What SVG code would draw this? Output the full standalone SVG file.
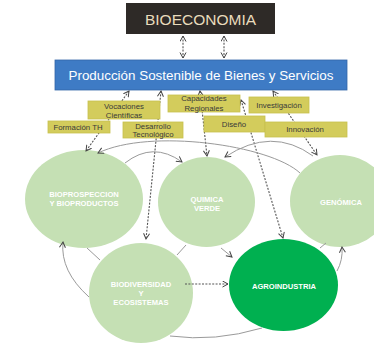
<svg xmlns="http://www.w3.org/2000/svg" width="374" height="346" viewBox="0 0 374 346">
<style>
.ybox{fill:#d3cc5c;stroke:#c7c04e;stroke-width:0.8}
.yt{font-family:"Liberation Sans",Arial,sans-serif;font-size:7.8px;fill:#3a3a3a;text-anchor:middle}
.lc{fill:#c5e0b4}
.ct{font-family:"Liberation Sans",Arial,sans-serif;font-size:7.6px;font-weight:bold;fill:#ffffff;text-anchor:middle}
.dash{fill:none;stroke:#555;stroke-width:1.1;stroke-dasharray:2 1.4}
.arc{fill:none;stroke:#9a9a9a;stroke-width:1}
</style>
<defs>
<marker id="ah" markerUnits="userSpaceOnUse" markerWidth="9" markerHeight="9" refX="6" refY="3.5" orient="auto-start-reverse">
<path d="M0.5,0.5 L6,3.5 L0.5,6.5" fill="none" stroke="#444" stroke-width="1"/>
</marker>
</defs>
<rect width="374" height="346" fill="#ffffff"/>

<g id="bioeconomia">
<rect x="126" y="3" width="149" height="31" fill="#2e2a27"/>
<text x="200.5" y="25" font-family="'Liberation Sans',Arial,sans-serif" font-size="15.5" fill="#e9dcbc" text-anchor="middle">BIOECONOMIA</text>
</g>
<g id="produccion">
<rect x="55" y="60" width="292" height="30" fill="#3e7bc5" stroke="#3467a8" stroke-width="0.8"/>
<text x="201" y="80" font-family="'Liberation Sans',Arial,sans-serif" font-size="13.4" fill="#ffffff" text-anchor="middle">Producción Sostenible de Bienes y Servicios</text>
</g>

<g id="bioprospeccion">
<ellipse class="lc" cx="84" cy="199" rx="59" ry="49"/>
<text class="ct" x="84" y="197">BIOPROSPECCION</text>
<text class="ct" x="84" y="206">Y BIOPRODUCTOS</text>
</g>
<g id="quimica">
<ellipse class="lc" cx="206.5" cy="202" rx="48.5" ry="45"/>
<text class="ct" x="207" y="201.5">QUIMICA</text>
<text class="ct" x="207" y="210.5">VERDE</text>
</g>
<g id="genomica">
<ellipse class="lc" cx="340" cy="201" rx="50" ry="46"/>
<text class="ct" x="341" y="204.5">GENÓMICA</text>
</g>
<g id="biodiversidad">
<ellipse class="lc" cx="141" cy="293" rx="52" ry="50"/>
<text class="ct" x="141" y="286.5">BIODIVERSIDAD</text>
<text class="ct" x="141" y="295.5">Y</text>
<text class="ct" x="141" y="304.5">ECOSISTEMAS</text>
</g>
<g id="agroindustria">
<ellipse cx="283.5" cy="285" rx="54.5" ry="46" fill="#00b050"/>
<text class="ct" x="284" y="288.5">AGROINDUSTRIA</text>
</g>

<g id="connectors">
<line class="dash" x1="183" y1="36" x2="183" y2="58" marker-start="url(#ah)" marker-end="url(#ah)"/>
<line class="dash" x1="224" y1="36" x2="224" y2="58" marker-start="url(#ah)" marker-end="url(#ah)"/>
<line class="dash" x1="129" y1="91" x2="86" y2="151" marker-start="url(#ah)" marker-end="url(#ah)"/>
<line class="dash" x1="161" y1="91" x2="146" y2="239" marker-start="url(#ah)" marker-end="url(#ah)"/>
<line class="dash" x1="200" y1="91" x2="207" y2="156" marker-start="url(#ah)" marker-end="url(#ah)"/>
<line class="dash" x1="273" y1="91" x2="317" y2="155" marker-start="url(#ah)" marker-end="url(#ah)"/>
<line class="dash" x1="241" y1="100" x2="283" y2="238" marker-start="url(#ah)" marker-end="url(#ah)"/>
<line class="dash" x1="185" y1="284" x2="228" y2="284" marker-end="url(#ah)"/>
<path class="arc" d="M300,173 C270,145 150,128 98,153" marker-end="url(#ah)"/>
<path class="arc" d="M313,156 Q272,126 225,157" marker-end="url(#ah)"/>
<path class="arc" d="M125,163 Q153,141 182,162" marker-end="url(#ah)"/>
<path class="arc" d="M89,297 Q60,271 63,242" marker-end="url(#ah)"/>
<path class="arc" d="M170,336 Q215,342 262,328"/>
<path class="arc" d="M337,271 Q343,260 342,247" marker-end="url(#ah)"/>
<line class="arc" x1="87" y1="248" x2="100" y2="260"/>
<line class="arc" x1="177" y1="255" x2="186" y2="245"/>
<line class="arc" x1="221" y1="248" x2="232" y2="257" marker-end="url(#ah)"/>
<line class="arc" x1="320" y1="248" x2="326" y2="243"/>
</g>

<g id="vocaciones">
<rect class="ybox" x="88" y="101" width="72" height="18"/>
<text class="yt" x="124" y="108.5">Vocaciones</text>
<text class="yt" x="124" y="117.5">Científicas</text>
</g>
<g id="formacion">
<rect class="ybox" x="48" y="121" width="62" height="12"/>
<text class="yt" x="78" y="129.6">Formación TH</text>
</g>
<g id="desarrollo">
<rect class="ybox" x="123" y="122" width="60" height="16"/>
<text class="yt" x="153" y="128.5">Desarrollo</text>
<text class="yt" x="153" y="137.3">Tecnológico</text>
</g>
<g id="capacidades">
<rect class="ybox" x="168" y="95" width="72" height="17"/>
<text class="yt" x="204" y="101.3">Capacidades</text>
<text class="yt" x="204" y="110.8">Regionales</text>
</g>
<g id="investigacion">
<rect class="ybox" x="249" y="97" width="60" height="16"/>
<text class="yt" x="279" y="107.8">Investigación</text>
</g>
<g id="diseno">
<rect class="ybox" x="204" y="116" width="61" height="16"/>
<text class="yt" x="234" y="126.8">Diseño</text>
</g>
<g id="innovacion">
<rect class="ybox" x="265" y="122" width="82" height="15"/>
<text class="yt" x="305" y="132">Innovación</text>
</g>
</svg>
